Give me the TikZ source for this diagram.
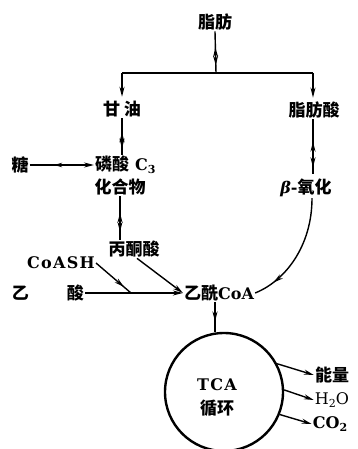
\documentclass[tikz,border=0pt]{standalone}
\usepackage{fontspec}
\setmainfont{DejaVu Serif}
\newfontfamily\cjk{Noto Sans CJK SC}
\newfontfamily\latspaced{DejaVu Serif}[LetterSpace=8]
\newcommand\zh[1]{{\fontsize{17}{18}\selectfont\cjk\bfseries #1}}
\newcommand\sbs[1]{\raisebox{-2.5pt}{\fontsize{11}{11}\selectfont #1}}
\usetikzlibrary{arrows.meta,decorations.markings}
\tikzset{
  every node/.style={inner sep=1pt, font=\fontsize{16}{18}\selectfont\bfseries},
  tip/.style={},
  conn/.style={line width=1.4pt},
  arr/.style={conn,-{Stealth[length=10pt,width=5pt]}},
  rev/.style={conn, postaction={decorate}, decoration={markings,
     mark=at position 0.38 with {\arrowreversed{Stealth[length=10pt,width=5pt]}},
     mark=at position 0.82 with {\arrow{Stealth[length=10pt,width=5pt]}}}},
  revend/.style={conn,-{Stealth[length=10pt,width=5pt]}, postaction={decorate}, decoration={markings,
     mark=at position 0.38 with {\arrowreversed{Stealth[length=8pt,width=4.5pt]}}}},
  midarr/.style={conn, postaction={decorate}, decoration={markings,
     mark=at position #1 with {\arrow{Stealth[length=10pt,width=5pt]}}}},
  ring/.style={circle, draw, line width=2.4pt, minimum size=118pt, inner sep=0pt}
}
\begin{document}
\begin{tikzpicture}[x=1pt,y=-1pt]
\useasboundingbox (0,0) rectangle (357,449);
% nodes
\node (fat) at (215,22) {\zh{脂肪}};
\node (gly) at (122,109) {\zh{甘\hspace{4pt}油}};
\node (fa) at (314,110) {\zh{脂肪酸}};
\node (sug) at (20,165) {\zh{糖}};
\node[anchor=west] (phos1) at (94,165) {\zh{磷酸}\hspace{6pt}C\sbs{3}};
\node (phos2) at (120,187) {\zh{化合物}};
\node (pyr) at (134,249) {\zh{丙酮酸}};
\node (coash) at (61,263) {\latspaced CoASH};
\node (acid) at (48,293) {\zh{乙\hspace{38pt}酸}};
\node (acoa) at (219,293) {\zh{乙酰}CoA};
\node (beta) at (306,188) {\itshape β\upshape -\zh{氧化}};
\node[ring] (cyc) at (224,392) {};
\node (tca) at (217,385) {\latspaced TCA};
\node (cyc2) at (217,408) {\zh{循环}};
\node (en) at (332,375) {\zh{能量}};
\node (h2o) at (332,400) {\mdseries H\sbs{2}O};
\node (co2) at (330,424) {CO\sbs{2}};
% coordinates
\coordinate (bj) at (216,73);
\coordinate (bl) at (122,73);
\coordinate (br) at (313,73);
\coordinate (merge) at (131,293);
% connectors
\draw[rev] (fat.south) -- (bj);
\draw[conn] (bl) -- (br);
\draw[arr, shorten >=3pt] (bl) -- (gly.north -| bl);
\draw[arr, shorten >=3pt] (br) -- (fa.north -| br);
\draw[rev] (gly.south) -- (gly.south |- phos1.north);
\draw[revend] (sug.east) -- (phos1.west);
\draw[rev] (phos2.south) -- (phos2.south |- pyr.north);
\draw[rev, shorten >=4pt] (fa.south -| br) -- (br |- beta.north);
\draw[midarr=0.8] (coash.east) -- (merge);
\draw[arr] (acid.east) -- (acoa.west);
\draw[arr] ([xshift=3pt]pyr.south) -- (acoa.west);
\draw[midarr=0.82] ([xshift=6pt]beta.south) .. controls +(0,48) and +(30,-12) .. (acoa.east);
\draw[midarr=0.65] ([xshift=-4pt]acoa.south) -- ([xshift=-4pt]acoa.south |- cyc.north);
\draw[arr] (cyc.28) -- (en.west);
\draw[arr] (cyc.2) -- (h2o.west);
\draw[arr] (cyc.-22) -- (co2.west);
\end{tikzpicture}
\end{document}
